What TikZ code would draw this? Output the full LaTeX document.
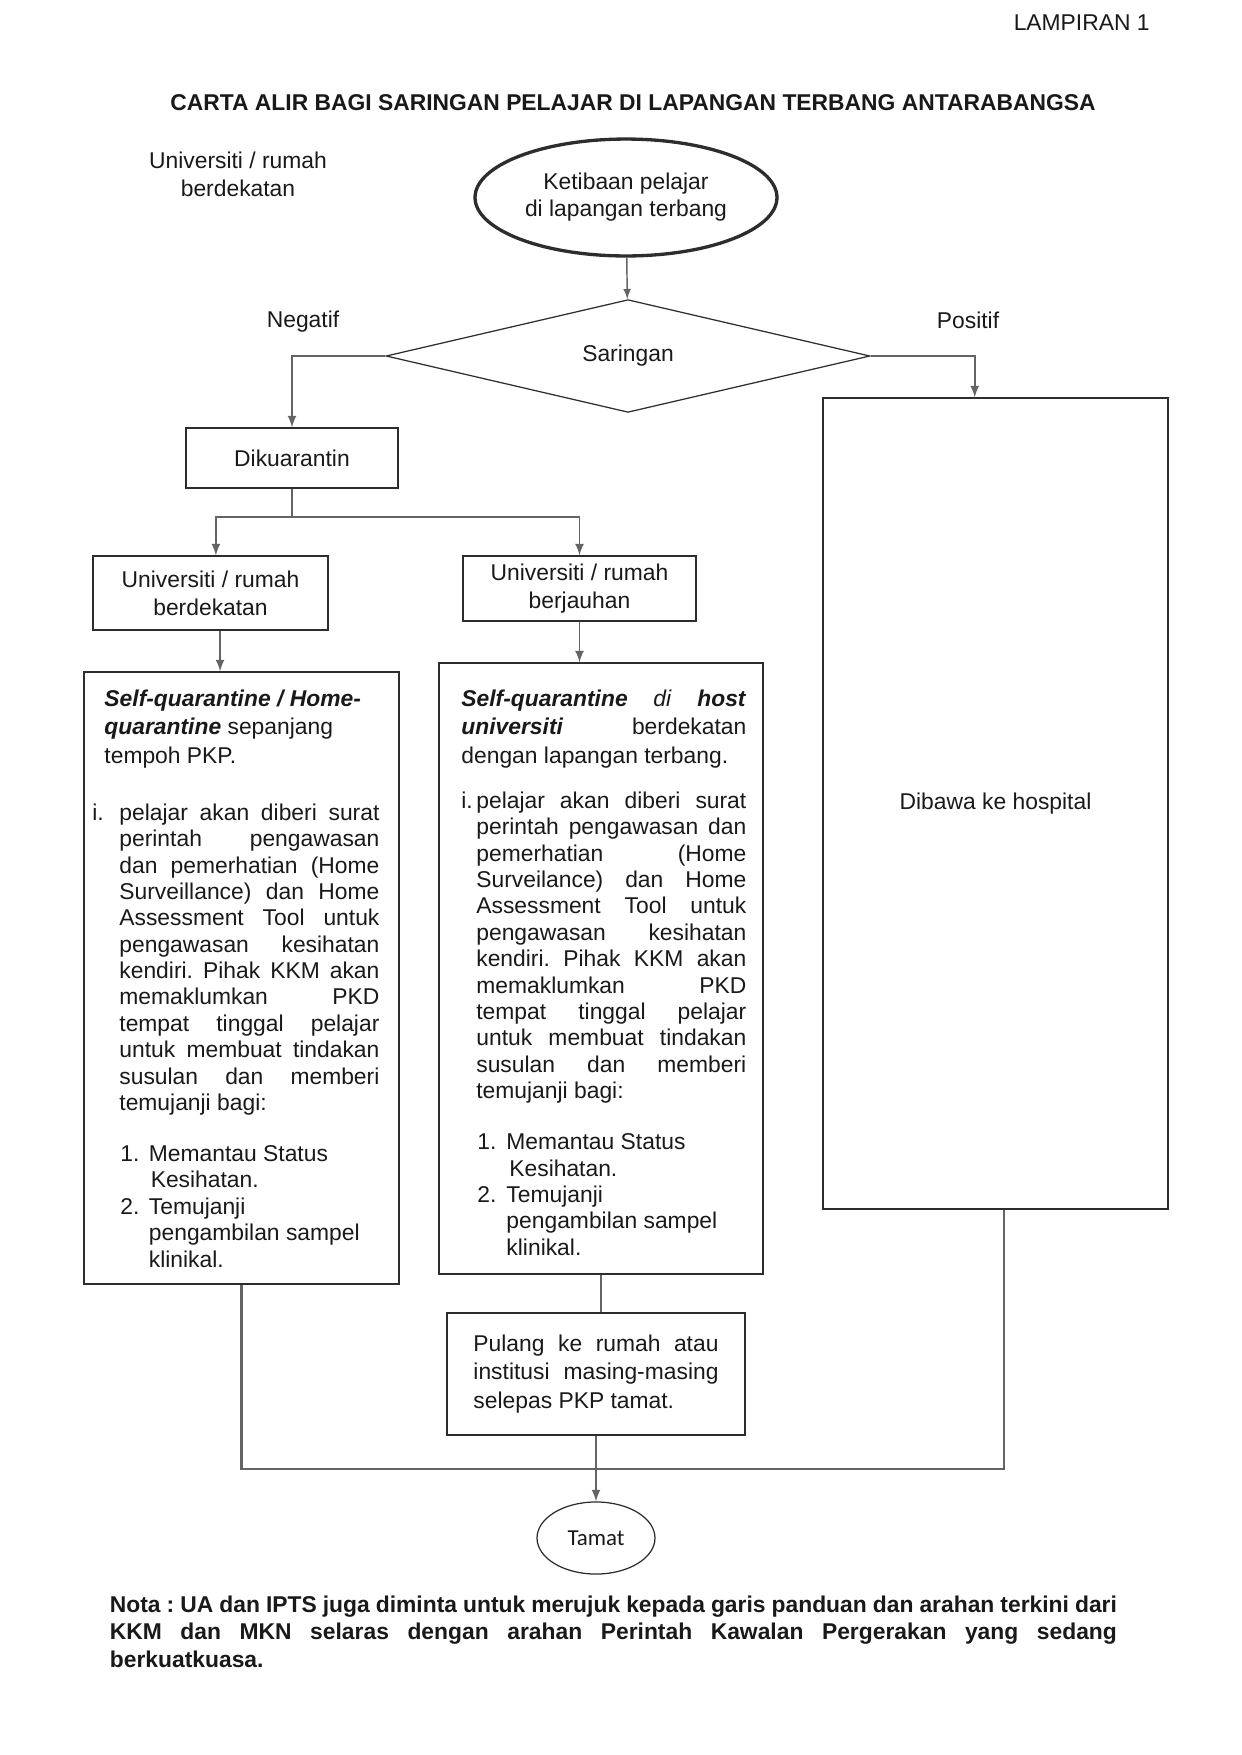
\documentclass[tikz,border=0pt]{standalone}
\usepackage{fontspec}
\setmainfont{Liberation Sans}
\newfontfamily\calibri{Carlito}
\usetikzlibrary{shapes,arrows,positioning}

\definecolor{garis}{RGB}{100,100,100}
\definecolor{tepi}{RGB}{45,45,45}
\definecolor{tinta}{RGB}{25,25,25}

% jarak baris dan jarak perkataan
\newcommand{\spasi}{\spaceskip=0.278em plus 0.6em minus 0.1em\relax}
\newcommand{\isi}{\fontsize{11pt}{12.7pt}\selectfont\spasi}
\newcommand{\kepala}{\fontsize{11pt}{13.7pt}\selectfont\spasi}
\frenchspacing

\begin{document}
\begin{tikzpicture}[
    x=0.4815pt, y=-0.4815pt,
    kotak/.style={rectangle, draw=tepi, line width=0.6pt, inner sep=0pt, text=tinta, font=\fontsize{11pt}{13.5pt}\selectfont},
    mulaan/.style={ellipse, draw=tepi, line width=1.6pt, inner sep=0pt, align=center, text=tinta, font=\fontsize{11pt}{13pt}\selectfont},
    keputusan/.style={diamond, draw=tepi, line width=0.6pt, inner sep=0pt, text=tinta, font=\fontsize{11pt}{13.5pt}\selectfont},
    catatan/.style={inner sep=0pt, align=center, text=tinta, font=\fontsize{11pt}{13.5pt}\selectfont},
    perenggan/.style={inner sep=0pt, anchor=north west, text=tinta, font=\isi},
    panah/.style={->, >=latex, line width=0.9pt, draw=garis},
    sambung/.style={line width=1.1pt, draw=garis}
]
\useasboundingbox (0,0) rectangle (1241,1755);

% Tajuk
\node[catatan, anchor=east] (lampiran) at (1150,23) {LAMPIRAN 1};
\node[catatan, font=\bfseries\fontsize{11pt}{13.5pt}\selectfont] (tajuk) at (633,103) {CARTA ALIR BAGI SARINGAN PELAJAR DI LAPANGAN TERBANG ANTARABANGSA};
\node[catatan] (sisi) at (238,174) {Universiti / rumah\\berdekatan};

% Aliran atas
\node[mulaan, minimum width=145.4pt, minimum height=56.3pt] (mula) at (626,197.5) {Ketibaan pelajar\\di lapangan terbang};
\node[keputusan, minimum width=233pt, minimum height=53.4pt] (saringan) at (628,356) {Saringan};
\node[catatan] (negatif) at (303,322) {Negatif};
\node[catatan] (positif) at (968,320) {Positif};

\node[kotak, minimum width=102.1pt, minimum height=28.9pt] (kuarantin) at (292,458) {Dikuarantin};
\node[kotak, align=center, minimum width=113.2pt, minimum height=35.6pt] (dekat) at (210.5,593) {Universiti / rumah\\berdekatan};
\node[kotak, align=center, minimum width=112.2pt, minimum height=31.3pt] (jauh) at (579.5,588.5) {Universiti / rumah\\berjauhan};
\node[kotak, minimum width=166.1pt, minimum height=390.5pt] (hospital) at (995.5,803.5) {Dibawa ke hospital};

% Kotak besar
\node[kotak, minimum width=151.7pt, minimum height=294.7pt] (kiri) at (241.5,978) {};
\node[kotak, minimum width=156pt, minimum height=294.2pt] (kanan) at (601,968.5) {};

\node[perenggan, text width=138.2pt] (kiriteks) at (92,689.5) {%
{\kepala\leftskip=5.8pt\rightskip=0pt plus 1fil\parfillskip=0pt plus 1fil
\textbf{\textit{Self-quarantine / Home-}}\linebreak
\textbf{\textit{quarantine}} sepanjang\linebreak
tempoh PKP.\par}
\vspace{14.7pt}
{\isi\leftskip=0pt\rightskip=0pt\parfillskip=0pt plus 1fil
\hangindent=13pt\hangafter=1\noindent\makebox[13pt][l]{i.}pelajar akan diberi surat\linebreak
perintah pengawasan\linebreak
dan pemerhatian (Home\linebreak
Surveillance) dan Home\linebreak
Assessment Tool untuk\linebreak
pengawasan kesihatan\linebreak
kendiri. Pihak KKM akan\linebreak
memaklumkan PKD\linebreak
tempat tinggal pelajar\linebreak
untuk membuat tindakan\linebreak
susulan dan memberi\linebreak
temujanji bagi:\par}
\vspace{11.9pt}
{\isi\leftskip=13.5pt\rightskip=0pt plus 1fil\parfillskip=0pt plus 1fil
\hangindent=14.6pt\hangafter=1\noindent\makebox[13.7pt][l]{1.}Memantau Status\linebreak
Kesihatan.\par
\hangindent=13.7pt\hangafter=1\noindent\makebox[13.7pt][l]{2.}Temujanji\linebreak
pengambilan sampel\linebreak
klinikal.\par}};

\node[perenggan, text width=137.2pt] (kananteks) at (461,689.5) {%
{\kepala\leftskip=0pt\rightskip=0pt\parfillskip=0pt plus 1fil
\textbf{\textit{Self-quarantine}} \textit{di} \textbf{\textit{host}}\linebreak
\textbf{\textit{universiti}} berdekatan\linebreak
dengan lapangan terbang.\par}
\vspace{9pt}
{\isi\leftskip=0pt\rightskip=0pt\parfillskip=0pt plus 1fil
\hangindent=7.2pt\hangafter=1\noindent\makebox[7.2pt][l]{i.}pelajar akan diberi surat\linebreak
perintah pengawasan dan\linebreak
pemerhatian (Home\linebreak
Surveilance) dan Home\linebreak
Assessment Tool untuk\linebreak
pengawasan kesihatan\linebreak
kendiri. Pihak KKM akan\linebreak
memaklumkan PKD\linebreak
tempat tinggal pelajar\linebreak
untuk membuat tindakan\linebreak
susulan dan memberi\linebreak
temujanji bagi:\par}
\vspace{11.9pt}
{\isi\leftskip=7.7pt\rightskip=0pt plus 1fil\parfillskip=0pt plus 1fil
\hangindent=15.4pt\hangafter=1\noindent\makebox[14pt][l]{1.}Memantau Status\linebreak
Kesihatan.\par
\hangindent=14pt\hangafter=1\noindent\makebox[14pt][l]{2.}Temujanji\linebreak
pengambilan sampel\linebreak
klinikal.\par}};

\node[kotak, text width=118pt, minimum width=143.5pt, minimum height=58.7pt] (pulang) at (596,1374) {%
{\kepala\leftskip=0pt\rightskip=0pt\parfillskip=0pt plus 1fil
Pulang ke rumah atau\linebreak
institusi masing-masing\linebreak
selepas PKP tamat.\par}};

\node[mulaan, line width=0.6pt, minimum width=56.8pt, minimum height=34.7pt, font=\calibri\fontsize{11pt}{13pt}\selectfont] (tamat) at (596,1538) {Tamat};

% Nota
\node[perenggan, text width=484.9pt, font=\bfseries\fontsize{11pt}{13.2pt}\selectfont] (nota) at (109.5,1595.5) {%
{\spasi\leftskip=0pt\rightskip=0pt\parfillskip=0pt plus 1fil
Nota : UA dan IPTS juga diminta untuk merujuk kepada garis panduan dan arahan terkini dari\linebreak
KKM dan MKN selaras dengan arahan Perintah Kawalan Pergerakan yang sedang\linebreak
berkuatkuasa.\par}};

% Penyambung
\coordinate (cabang) at (292,517);
\coordinate (kumpul) at (596,1469);
\draw[panah, line width=0.7pt] (mula) -- (saringan);
\draw[panah] (saringan.west) -| (kuarantin.north);
\draw[panah] (saringan.east) -| ([xshift=-10pt]hospital.north);
\draw[sambung] (kuarantin.south) -- (cabang);
\draw[panah] (cabang) -| ([xshift=2.6pt]dekat.north);
\draw[panah] (cabang) -| (jauh.north);
\draw[panah] ([xshift=4.6pt]dekat.south) -- ([xshift=4.6pt]dekat.south |- kiri.north);
\draw[panah] (jauh.south) -- (jauh.south |- kanan.north);
\draw[sambung] (kanan.south) -- (kanan.south |- pulang.north);
\draw[sambung] (kiri.south) |- (kumpul) -| ([xshift=4.1pt]hospital.south);
\draw[panah] (pulang.south) -- (tamat.north);

\end{tikzpicture}
\end{document}
